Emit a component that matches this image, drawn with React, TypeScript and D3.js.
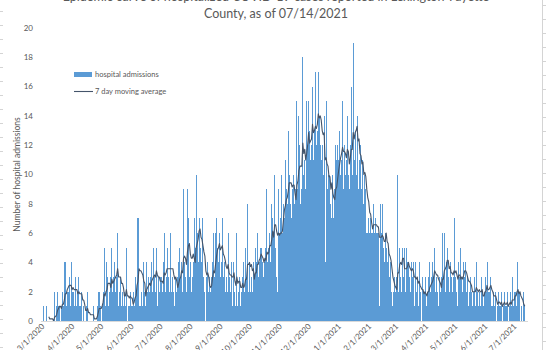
import React from "react";
import * as d3 from "d3";

// daily hospital admissions, one array per month, starting 3/1/2020
const startDate = "2020-03-01";
const axisEnd = "2021-07-14";
const mar2020 = [1,0,0,0,1,0,0,0,0,0,0,0,2,0,1,2,1,1,0,1,2,1,4,4,1,2,2,3,1,4,2];
const apr2020 = [2,1,2,3,1,2,3,1,1,2,0,1,0,0,1,2,0,0,0,0,0,1,0,0,0,1,2,2,1,0];
const may2020 = [1,2,5,1,4,2,3,1,2,3,5,2,3,4,2,3,6,1,2,3,1,2,1,2,1,5,0,1,1,2,1];
const jun2020 = [1,2,1,3,2,7,3,7,1,1,2,1,4,2,1,4,2,3,2,3,4,2,5,3,2,5,1,3,2,3];
const jul2020 = [3,2,4,6,2,3,5,3,2,4,6,2,3,2,1,3,2,3,4,5,3,4,2,9,4,3,2,9,7,3,4];
const aug2020 = [2,3,4,7,5,10,6,4,7,5,3,4,7,3,2,0,3,4,2,3,2,3,4,6,3,6,7,5,4,6,3];
const sep2020 = [4,7,3,4,2,3,2,6,3,2,4,1,3,4,2,1,6,1,2,3,1,2,3,4,2,5,3,8,2,4];
const oct2020 = [2,3,2,4,3,5,4,6,3,4,5,5,4,3,4,5,3,9,4,5,6,4,8,7,6,10,5,3,2,9,6];
const nov2020 = [7,10,6,8,7,11,9,8,13,10,8,7,9,10,8,9,7,15,9,14,12,8,9,18,10,11,9,15,12,15];
const dec2020 = [13,11,12,16,11,13,17,12,13,17,14,12,11,12,10,14,4,15,9,10,7,10,8,7,10,7,9,12,11,12,11];
const jan2021 = [13,10,11,15,9,12,10,11,14,10,9,12,16,10,19,11,13,10,14,9,11,12,10,9,11,8,10,9,6,6,7];
const feb2021 = [6,7,6,6,8,6,7,6,6,6,1,8,6,8,5,4,6,5,4,5,3,4,2,2,1,2,3,2];
const mar2021 = [3,10,2,5,3,2,5,3,5,2,5,4,4,3,2,4,3,4,1,4,2,3,1,4,2,0,3,2,1,2,3];
const apr2021 = [1,2,3,4,2,3,4,3,5,2,3,2,1,3,2,3,6,3,6,2,4,5,3,2,4,3,2,3,7,2];
const may2021 = [3,2,1,4,3,5,3,2,4,3,4,2,3,1,2,3,2,1,2,3,1,4,2,1,2,1,3,2,1,2,3];
const jun2021 = [2,4,1,2,2,3,1,1,2,1,2,0,1,2,1,1,2,0,1,2,1,1,2,0,1,2,1,3,1,2];
const jul2021 = [2,1,4,2,1,2,0,1,0,2,1];

const yTicks = [0, 2, 4, 6, 8, 10, 12, 14, 16, 18, 20];
const titleLines = [
  "Epidemic curve of hospitalized COVID-19 cases reported in Lexington-Fayette",
  "County, as of 07/14/2021",
];
const seriesNames = ["hospital admissions", "7 day moving average"];

const admissions = [
  ...mar2020, ...apr2020, ...may2020, ...jun2020, ...jul2020, ...aug2020,
  ...sep2020, ...oct2020, ...nov2020, ...dec2020, ...jan2021, ...feb2021,
  ...mar2021, ...apr2021, ...may2021, ...jun2021, ...jul2021,
];

const W = 546;
const H = 350;
const barColor = "#5B9BD5";
const lineColor = "#44546A";
const textColor = "#595959";
const font = "Lato, 'Open Sans', sans-serif";

export default function App() {
  const start = new Date(startDate + "T00:00:00Z");
  const end = new Date(axisEnd + "T00:00:00Z");

  const x = d3.scaleUtc().domain([start, end]).range([43, 527.7]);
  const y = d3.scaleLinear().domain([0, 20]).range([321, 28]);

  const rows = admissions.map((v, i) => ({ date: d3.utcDay.offset(start, i), v }));
  const step = x(d3.utcDay.offset(start, 1)) - x(start);

  // 7 day trailing average
  const avg = rows
    .map((d, i) => (i < 6 ? null : { date: d.date, v: d3.mean(rows.slice(i - 6, i + 1), r => r.v) as number }))
    .filter(d => d !== null) as { date: Date; v: number }[];

  const line = d3.line<{ date: Date; v: number }>()
    .x(d => x(d.date))
    .y(d => y(d.v));

  const monthTicks = d3.utcMonth.range(start, d3.utcDay.offset(end, 1));
  const fmt = d3.utcFormat("%-m/%-d/%Y");

  const leftRows = d3.range(11, H, 14);
  const rightRows = d3.range(5, H, 14);

  // snap each day's column to whole pixels so neighbouring columns join up
  const bars = rows.map(d => {
    const x0 = Math.round(x(d.date) - step / 2);
    const x1 = Math.round(x(d3.utcDay.offset(d.date, 1)) - step / 2);
    return { ...d, x0, w: Math.max(1, x1 - x0) };
  });

  return (
    <svg width={W} height={H} style={{ position: "absolute", left: 0, top: 0, background: "#fff" }} fontFamily={font}>
      {/* spreadsheet cell borders around the chart */}
      {leftRows.map(r => (
        <line key={"l" + r} x1={0} x2={3} y1={r + 0.5} y2={r + 0.5} stroke="#d4d4d4" />
      ))}
      <line x1={542.5} x2={542.5} y1={0} y2={H} stroke="#d4d4d4" />
      {rightRows.map(r => (
        <line key={"r" + r} x1={543} x2={546} y1={r + 0.5} y2={r + 0.5} stroke="#d4d4d4" />
      ))}

      {titleLines.map((t, i) => (
        <text key={t} x={276} y={1 + i * 17} textAnchor="middle" fontSize={12.5} fill={textColor}>{t}</text>
      ))}

      {yTicks.map(t => (
        <text key={t} x={33} y={y(t)} dy="0.35em" textAnchor="end" fontSize={8} fill={textColor}>{t}</text>
      ))}
      <text transform={`translate(17,${y(10)}) rotate(-90)`} textAnchor="middle" dy="0.35em" fontSize={8.5} fill={textColor}>
        Number of hospital admissions
      </text>

      <g shapeRendering="crispEdges">
        {bars.map(d => (
          <rect key={d.date.getTime()} x={d.x0} y={Math.round(y(d.v))} width={d.w}
            height={Math.round(y(0)) - Math.round(y(d.v))} fill={barColor} />
        ))}
      </g>
      <path d={line(avg) ?? ""} fill="none" stroke={lineColor} strokeWidth={1.1} strokeLinejoin="round" />

      <line x1={41} x2={528} y1={321.5} y2={321.5} stroke="#d9d9d9" />

      {monthTicks.map(t => (
        <text key={t.getTime()} transform={`translate(${x(t)},${325}) rotate(-45)`} textAnchor="end" dy="0.35em"
          fontSize={8} fill={textColor}>{fmt(t)}</text>
      ))}

      <rect x={74} y={72} width={18} height={5} fill={barColor} />
      <text x={95} y={74.5} dy="0.35em" fontSize={7.5} fill={textColor}>{seriesNames[0]}</text>
      <line x1={74} x2={93} y1={91.5} y2={91.5} stroke={lineColor} strokeWidth={1.1} />
      <text x={95} y={91.5} dy="0.35em" fontSize={7.5} fill={textColor}>{seriesNames[1]}</text>
    </svg>
  );
}
